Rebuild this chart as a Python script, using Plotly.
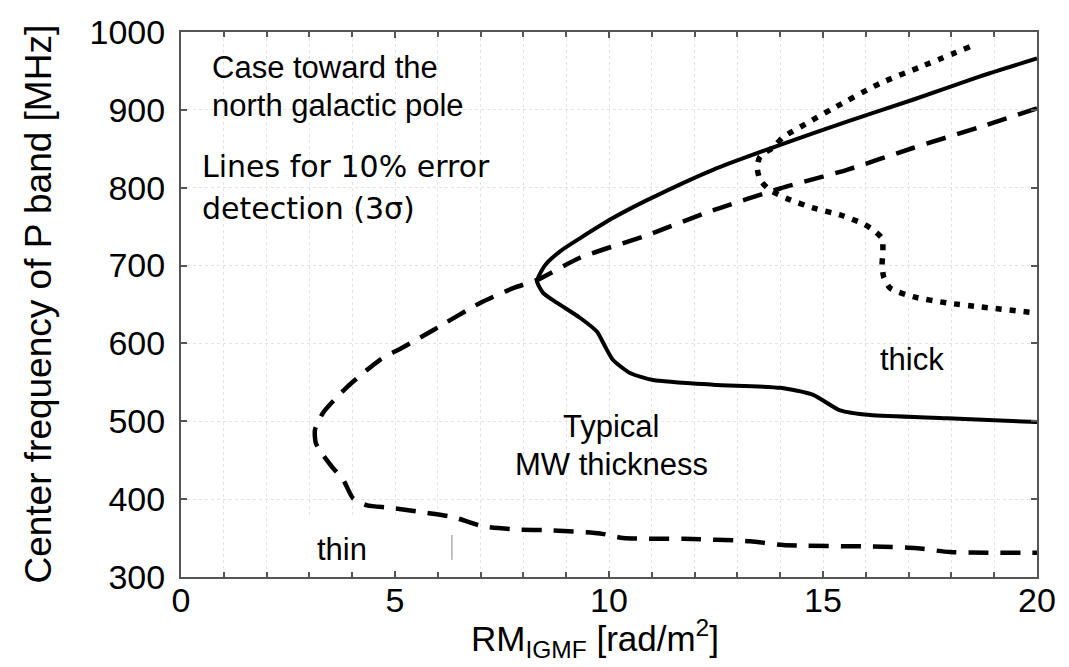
import plotly.graph_objects as go

# Solid curve (typical MW thickness)
solid_x = [20, 17.9, 16.1, 15.4, 14.77, 14.0, 12.43, 11.03, 10.49, 10.09, 9.91, 9.72, 9.32, 8.79, 8.46, 8.32,
           8.5, 8.85, 9.32, 10.09, 10.89, 12.43, 14.0, 15.56, 17.1, 18.67, 20]
solid_y = [499, 504, 508, 514, 534, 543, 547, 553, 562, 579, 596, 615, 633, 652, 665, 680,
           700, 718, 735, 761, 784, 823, 855, 885, 913, 943, 966]

# Dashed curve (thin)
dash_x = [20, 18.67, 17.1, 15.56, 14.0, 12.43, 10.89, 9.32, 8.34, 7.76, 6.99, 5.89, 5.19, 4.65, 3.88,
          3.32, 3.13, 3.15, 3.3, 3.55, 3.79, 4.02, 4.35, 4.88, 5.65, 6.36, 7.06, 7.85, 8.62, 9.79,
          10.33, 11.73, 13.3, 14.07, 16.4, 17.2, 17.97, 20]
dash_y = [902, 878, 851, 823, 799, 771, 739, 710, 682, 671, 652, 617, 595, 579, 544,
          511, 489, 472, 458, 440, 425, 401, 392, 389, 383, 377, 365, 361, 360, 356,
          350, 349, 346, 341, 339, 337, 332, 331]

# Dotted curve (thick)
dot_x = [18.43, 17.27, 16.33, 15.24, 14.63, 14.07, 13.84, 13.53, 13.46, 13.53, 13.76, 14.16, 14.77,
         15.4, 15.93, 16.17, 16.38, 16.4, 16.38, 16.42, 16.57, 17.1, 17.9, 18.67, 20]
dot_y = [981, 955, 934, 902, 883, 865, 852, 840, 827, 810, 797, 786, 774,
         765, 754, 746, 735, 720, 700, 685, 671, 660, 652, 647, 639]

x_ticks = [0, 5, 10, 15, 20]
y_ticks = [300, 400, 500, 600, 700, 800, 900, 1000]

FONT = "Liberation Sans, Arial, Helvetica, sans-serif"

fig = go.Figure()
fig.add_trace(go.Scatter(x=solid_x, y=solid_y, mode="lines",
                         line=dict(color="black", width=4, shape="spline", smoothing=0.6)))
fig.add_trace(go.Scatter(x=dash_x, y=dash_y, mode="lines",
                         line=dict(color="black", width=4.5, dash="20px,12px", shape="spline", smoothing=0.6)))
fig.add_trace(go.Scatter(x=dot_x, y=dot_y, mode="lines",
                         line=dict(color="black", width=5.5, dash="6px,8px", shape="spline", smoothing=0.6)))

axis_common = dict(showline=True, linecolor="#555555", linewidth=2, mirror="ticks",
                   ticks="inside", tickcolor="#555555", tickwidth=1.5, ticklen=6,
                   showgrid=True, gridcolor="#e4e4e4", griddash="dot", gridwidth=1,
                   zeroline=False, automargin=False,
                   tickfont=dict(family=FONT, size=34, color="black"))

fig.update_xaxes(range=[0, 20], tickvals=x_ticks, ticktext=[str(v) for v in x_ticks],
                 ticklabelstandoff=-8,
                 minor=dict(dtick=1, ticks="inside", ticklen=5, tickcolor="#555555",
                            showgrid=True, gridcolor="#e4e4e4", griddash="dot"),
                 **axis_common)
fig.update_yaxes(range=[300, 1000], tickvals=y_ticks, ticktext=[str(v) for v in y_ticks],
                 ticklabelstandoff=7, **axis_common)

ann_font = dict(family=FONT, size=31, color="black")
alt_font = dict(family="DejaVu Sans, sans-serif", size=30, color="black")
annotations = [
    dict(x=0.68, y=954, text="Case toward the", xanchor="left", font=ann_font),
    dict(x=0.68, y=905, text="north galactic pole", xanchor="left", font=ann_font),
    dict(x=0.44, y=827, text="Lines for 10% error", xanchor="left", font=alt_font),
    dict(x=0.44, y=773, text="detection (3σ)", xanchor="left", font=alt_font),
    dict(x=17.08, y=579, text="thick", xanchor="center", font=ann_font),
    dict(x=10.05, y=493, text="Typical", xanchor="center", font=ann_font),
    dict(x=10.05, y=444, text="MW thickness", xanchor="center", font=ann_font),
    dict(x=3.76, y=335, text="thin", xanchor="center", font=ann_font),
]
for a in annotations:
    a.update(xref="x", yref="y", showarrow=False, yanchor="middle")

annotations.append(dict(xref="paper", yref="paper", x=-0.167, y=0.5, showarrow=False,
                        text="Center frequency of P band [MHz]", textangle=-90,
                        xanchor="center", yanchor="middle",
                        font=dict(family=FONT, size=37, color="black")))
annotations.append(dict(xref="paper", yref="paper", x=0.484, y=-0.112, showarrow=False,
                        text="RM<sub>IGMF</sub> [rad/m<sup>2</sup>]",
                        xanchor="center", yanchor="middle",
                        font=dict(family=FONT, size=35, color="black")))

shapes = [
    dict(type="rect", xref="x", yref="y", x0=2.71, x1=6.33, y0=300, y1=377,
         fillcolor="white", line=dict(width=0), layer="between"),
    dict(type="line", xref="x", yref="y", x0=6.33, x1=6.33, y0=322, y1=354,
         line=dict(color="#888888", width=1), layer="above"),
]

# page body has an 8px margin, so the figure is 8px smaller and margins shifted
fig.update_layout(width=1061, height=659, margin=dict(l=173, r=32, t=24, b=90),
                  plot_bgcolor="white", paper_bgcolor="white", showlegend=False,
                  annotations=annotations, shapes=shapes)

fig.write_html("out.html")
